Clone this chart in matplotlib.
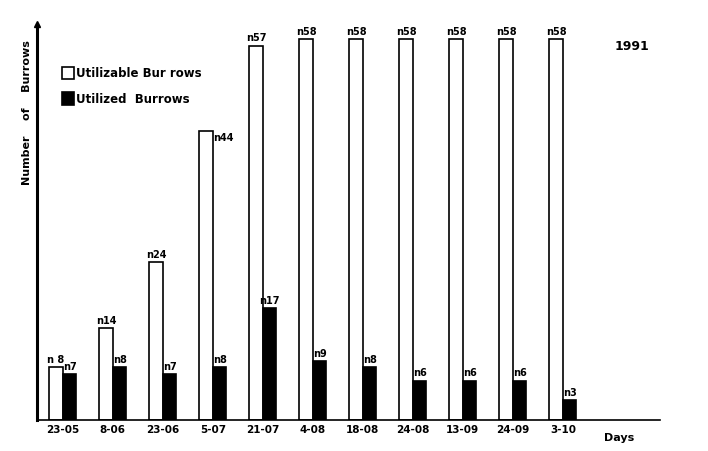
import numpy as np
import matplotlib.pyplot as plt
from matplotlib.patches import Rectangle

dates = ["23-05", "8-06", "23-06", "5-07", "21-07", "4-08", "18-08",
         "24-08", "13-09", "24-09", "3-10"]
utilizable = [8, 14, 24, 44, 57, 58, 58, 58, 58, 58, 58]
utilized = [7, 8, 7, 8, 17, 9, 8, 6, 6, 6, 3]
utilizable_labels = ["n 8", "n14", "n24", "n44", "n57", "n58", "n58",
                     "n58", "n58", "n58", "n58"]
utilized_labels = ["n7", "n8", "n7", "n8", "n17", "n9", "n8",
                   "n6", "n6", "n6", "n3"]

plt.rcParams['font.family'] = ['DejaVu Sans']

fig = plt.figure(figsize=(7.08, 4.52), dpi=100)
ax = fig.add_axes([0.052, 0.0686, 0.88, 0.876])

x = np.arange(len(dates))
w = 0.27
ax.bar(x - w / 2, utilizable, w, color="white", edgecolor="black", linewidth=1.2)
ax.bar(x + w / 2, utilized, w, color="black", edgecolor="black", linewidth=1.2)

# value labels
for i in range(len(dates)):
    if utilizable_labels[i] == "n44":
        ax.text(x[i] + 0.01, utilizable[i] - 1.6, utilizable_labels[i], ha="left",
                va="bottom", fontsize=7, fontweight="bold")
    else:
        ax.text(x[i] - w / 2, utilizable[i] + 0.5, utilizable_labels[i], ha="center",
                va="bottom", fontsize=7, fontweight="bold")
    ax.text(x[i] + w / 2, utilized[i] + 0.5, utilized_labels[i], ha="center",
            va="bottom", fontsize=7, fontweight="bold")

ax.set_xlim(-0.52, 11.94)
ax.set_ylim(0, 60.3)
ax.set_xticks(x)
ax.set_xticklabels(dates, fontsize=7.5, fontweight="bold")
ax.tick_params(axis="x", length=0, pad=3)
ax.set_yticks([])

for s in ["top", "right"]:
    ax.spines[s].set_visible(False)
ax.spines["left"].set_linewidth(2.2)
ax.spines["bottom"].set_linewidth(1.2)
ax.plot([0], [1], marker="^", color="black", markersize=5, transform=ax.transAxes,
        clip_on=False)

ax.text(-0.008, 0.78, "Number    of    Burrows", rotation=90, transform=ax.transAxes,
        ha="right", va="center", fontsize=8, fontweight="bold")
ax.text(0.935, -0.03, "Days", transform=ax.transAxes, ha="center", va="top",
        fontsize=8, fontweight="bold")
ax.text(0.955, 0.945, "1991", transform=ax.transAxes, ha="center", va="center",
        fontsize=9, fontweight="bold")

# legend drawn by hand
ax.add_patch(Rectangle((0.04, 0.862), 0.02, 0.03, transform=ax.transAxes,
                       facecolor="white", edgecolor="black", linewidth=1.2))
ax.text(0.063, 0.877, "Utilizable Bur rows", transform=ax.transAxes, ha="left",
        va="center", fontsize=8.5, fontweight="bold")
ax.add_patch(Rectangle((0.04, 0.795), 0.02, 0.033, transform=ax.transAxes,
                       facecolor="black", edgecolor="black", linewidth=1.2))
ax.text(0.063, 0.811, "Utilized  Burrows", transform=ax.transAxes, ha="left",
        va="center", fontsize=8.5, fontweight="bold")

fig.savefig("out.png", dpi=100)
